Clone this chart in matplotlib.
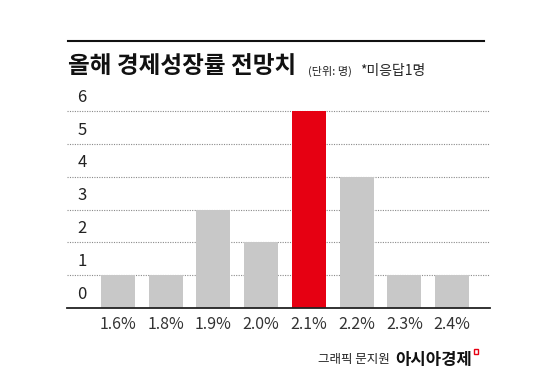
import matplotlib.pyplot as plt
import matplotlib.patches as patches

plt.rcParams['font.family'] = ['Noto Sans CJK KR', 'DejaVu Sans']

# data
labels = ['1.6%', '1.8%', '1.9%', '2.0%', '2.1%', '2.2%', '2.3%', '2.4%']
counts = [1, 1, 3, 2, 6, 4, 1, 1]
highlight = '2.1%'
yticks = [0, 1, 2, 3, 4, 5, 6]

title = '올해 경제성장률 전망치'
unit = '(단위: 명)'
note = '*미응답1명'
credit = '그래픽 문지원'
brand = '아시아경제'

fig = plt.figure(figsize=(5.5, 3.72), dpi=100)
ax = fig.add_axes([67/550, 1-308/372, 423/550, (308-94.6)/372])

xs = list(range(len(labels)))
colours = ['#e60012' if l == highlight else '#c8c8c8' for l in labels]
ax.bar(xs, counts, width=0.713, color=colours, zorder=2)

ax.set_xlim(-1.069, 7.796)
ax.set_ylim(0, 6.5)

# dotted grid + y labels sitting above each line
for k in yticks:
    if k > 0:
        ax.axhline(k, color='#8a8a8a', lw=0.8, ls=(0, (1, 1.2)), zorder=1)
    ax.text(0.035, k + 0.42, str(k), transform=ax.get_yaxis_transform(),
            ha='center', va='center', fontsize=12, color='#222222')

for s in ['top', 'right', 'left']:
    ax.spines[s].set_visible(False)
ax.spines['bottom'].set_linewidth(1.3)
ax.spines['bottom'].set_color('#222222')
ax.set_yticks([])
ax.set_xticks(xs)
ax.set_xticklabels(labels, fontsize=11.5, color='#333333')
ax.tick_params(axis='x', length=0, pad=6)

# header
fig.add_artist(plt.Line2D([68/550, 484/550], [1-41/372, 1-41/372],
                          color='#111111', lw=1.5))
fig.text(68/550, 1-66/372, title, fontsize=17, fontweight='heavy',
         va='center', ha='left', color='#111111')
fig.text(308/550, 1-71/372, unit, fontsize=8, va='center', ha='left',
         color='#222222')
fig.text(360/550, 1-71/372, note, fontsize=10, va='center', ha='left',
         color='#222222')

# credit
fig.text(318/550, 1-360/372, credit, fontsize=9, va='center', ha='left',
         color='#222222')
fig.text(395/550, 1-360/372, brand, fontsize=12, fontweight='heavy',
         va='center', ha='left', color='#111111')
fig.add_artist(patches.Rectangle((474/550, 1-354/372), 4/550, 5/372,
                                 fill=False, ec='#e60012', lw=1.0,
                                 transform=fig.transFigure))

fig.savefig('out.png', dpi=100)
